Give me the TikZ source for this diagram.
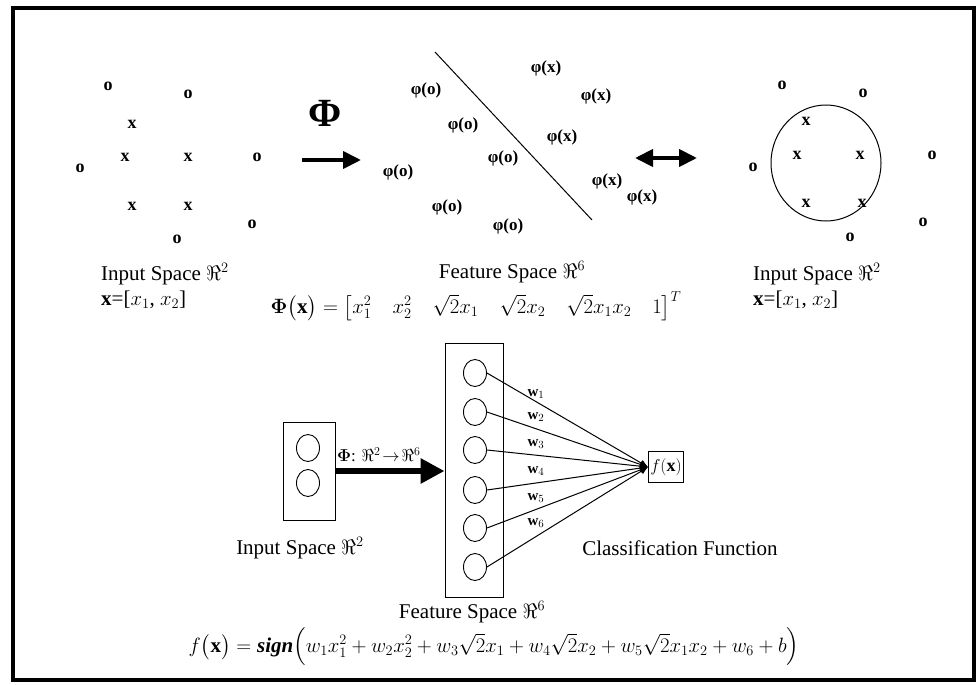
\documentclass[tikz,border=0pt]{standalone}
\usepackage{amsmath,amssymb}
\usepackage{fontspec}
\setmainfont{Liberation Serif}
\usepackage{tikz}
\usetikzlibrary{arrows.meta,positioning,shapes.geometric}

\begin{document}
\begin{tikzpicture}[
 x=1pt,y=-1pt,
 lbl/.style={font=\fontsize{21}{24}\selectfont,inner sep=0pt},
 pt/.style={font=\bfseries\fontsize{18}{18}\selectfont,inner sep=0pt},
 img/.style={font=\bfseries\fontsize{17}{17}\selectfont,inner sep=0pt},
 unit/.style={draw,ellipse,minimum width=23pt,minimum height=27pt,inner sep=0pt,line width=0.9pt},
 layer/.style={draw,line width=1pt,inner sep=0pt},
 arr/.style={-{Triangle[length=18pt,width=17pt]},line width=4pt},
 wline/.style={line width=1pt,-{Latex[length=8pt,width=7pt]}},
 wt/.style={font=\fontsize{15}{15}\selectfont,inner sep=0pt}
]
\useasboundingbox (0,0) rectangle (980,685);
\draw[line width=3.5pt] (13,8) rectangle (974,680);

% left input space
\node[pt] (lo1) at (108,86) {o};
\node[pt] (lo2) at (188,94) {o};
\node[pt] (lx1) at (132,124) {x};
\node[pt] (lx2) at (125,157) {x};
\node[pt] (lx3) at (188,157) {x};
\node[pt] (lo3) at (257,157) {o};
\node[pt] (lo4) at (80,168) {o};
\node[pt] (lx4) at (132,206) {x};
\node[pt] (lx5) at (188,206) {x};
\node[pt] (lo5) at (252,224) {o};
\node[pt] (lo6) at (177,239) {o};
\node[lbl,anchor=west] (lin) at (101,274) {Input Space $\Re^2$};
\node[lbl,anchor=west] (lvec) at (101,300) {$\mathbf{x}$=[$x_1$, $x_2$]};

% mapping
\node[font=\bfseries\fontsize{40}{40}\selectfont,inner sep=0pt] (phi) at (325,113) {Φ};
\coordinate (m1) at (302,160);
\coordinate (m2) at (361,160);
\draw[arr] (m1) -- (m2);

% feature space
\coordinate (s1) at (435,52);
\coordinate (s2) at (592,220);
\draw[line width=1pt] (s1) -- (s2);
\node[img] (fx1) at (546,68) {φ(x)};
\node[img] (fo1) at (426,90) {φ(o)};
\node[img] (fx2) at (596,96) {φ(x)};
\node[img] (fo2) at (463,125) {φ(o)};
\node[img] (fx3) at (562,137) {φ(x)};
\node[img] (fo3) at (503,158) {φ(o)};
\node[img] (fo4) at (398,172) {φ(o)};
\node[img] (fx4) at (607,181) {φ(x)};
\node[img] (fx5) at (642,197) {φ(x)};
\node[img] (fo5) at (447,207) {φ(o)};
\node[img] (fo6) at (508,226) {φ(o)};
\node[lbl] (fsp) at (512,272) {Feature Space $\Re^6$};
\node[lbl] (fmap) at (476,306) {$\boldsymbol{\Phi}\bigl(\mathbf{x}\bigr)=\bigl[x_1^2\quad x_2^2\quad \sqrt{2}x_1\quad \sqrt{2}x_2\quad \sqrt{2}x_1x_2\quad 1\bigr]^T$};

\coordinate (d1) at (635,158);
\coordinate (d2) at (697,158);
\draw[arr,{Triangle[length=18pt,width=17pt]}-{Triangle[length=18pt,width=17pt]}] (d1) -- (d2);

% right input space
\node[draw,ellipse,line width=1pt,minimum width=110pt,minimum height=116pt] (bound) at (826,163) {};
\node[pt] (ro1) at (782,85) {o};
\node[pt] (ro2) at (863,93) {o};
\node[pt] (rx1) at (806,121) {x};
\node[pt] (rx2) at (797,155) {x};
\node[pt] (rx3) at (860,155) {x};
\node[pt] (ro3) at (753,167) {o};
\node[pt] (ro4) at (932,155) {o};
\node[pt] (rx4) at (806,203) {x};
\node[pt] (rx5) at (862,203) {x};
\node[pt] (ro5) at (923,222) {o};
\node[pt] (ro6) at (850,237) {o};
\node[lbl,anchor=west] (rin) at (753,274) {Input Space $\Re^2$};
\node[lbl,anchor=west] (rvec) at (753,300) {$\mathbf{x}$=[$x_1$, $x_2$]};

% network
\node[layer,minimum width=52pt,minimum height=98pt] (inbox) at (309,471) {};
\node[unit] (i1) at (308,448) {};
\node[unit] (i2) at (308,483) {};
\node[layer,minimum width=58pt,minimum height=254pt] (featbox) at (474,470) {};
\node[unit] (n1) at (475,373) {};
\node[unit] (n2) at (475,412) {};
\node[unit] (n3) at (475,450) {};
\node[unit] (n4) at (475,490) {};
\node[unit] (n5) at (475,528) {};
\node[unit] (n6) at (475,567) {};
\node[layer,minimum width=35pt,minimum height=31pt,font=\fontsize{18}{18}\selectfont] (out) at (666,467) {$f(\mathbf{x})$};
\draw[line width=6pt,-{Triangle[length=24pt,width=24pt]}] (inbox.east) -- (inbox.east -| featbox.west);
\node[anchor=west,font=\fontsize{17}{17}\selectfont,inner sep=0pt] (maplbl) at (337,455) {$\boldsymbol{\Phi}$: $\Re^2\!\rightarrow\!\Re^6$};
\foreach \i in {1,...,6}
  \draw[wline] (n\i.east) -- (out.west);
\node[wt] (w1) at (536,394) {$\mathbf{w}_1$};
\node[wt] (w2) at (536,417) {$\mathbf{w}_2$};
\node[wt] (w3) at (536,444) {$\mathbf{w}_3$};
\node[wt] (w4) at (536,471) {$\mathbf{w}_4$};
\node[wt] (w5) at (536,498) {$\mathbf{w}_5$};
\node[wt] (w6) at (536,523) {$\mathbf{w}_6$};
\node[lbl] (nin) at (300,548) {Input Space $\Re^2$};
\node[lbl] (ncls) at (680,548) {Classification Function};
\node[lbl] (nfeat) at (472,612) {Feature Space $\Re^6$};
\node[lbl] (nfun) at (494,647) {$f\bigl(\mathbf{x}\bigr)=\textbf{\textit{sign}}\Bigl(w_1x_1^2+w_2x_2^2+w_3\sqrt{2}x_1+w_4\sqrt{2}x_2+w_5\sqrt{2}x_1x_2+w_6+b\Bigr)$};
\end{tikzpicture}
\end{document}
